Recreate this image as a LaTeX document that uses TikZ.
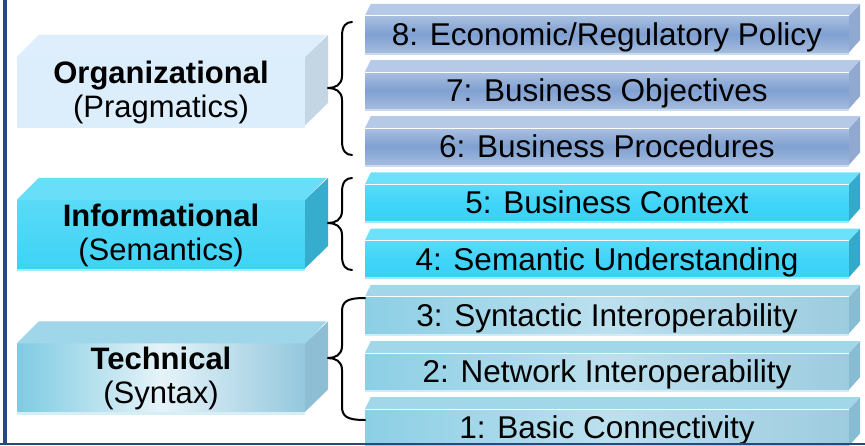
\documentclass[tikz,border=0pt]{standalone}
\usepackage{fontspec}
\setmainfont{Liberation Sans}
\usetikzlibrary{calc}

% palette
\definecolor{framecol}{HTML}{27497F}
% organizational tier (layers 6-8)
\definecolor{bizTop}{HTML}{A9BFE0}
\definecolor{bizMid}{HTML}{7FA0D1}
\definecolor{bizBot}{HTML}{A3BBDE}
\definecolor{bizLid}{HTML}{B6C9E6}
\definecolor{bizSide}{HTML}{8FA9D0}
\definecolor{bizStrip}{HTML}{CBDAEF}
% informational tier (layers 4-5)
\definecolor{semTop}{HTML}{5ADBF9}
\definecolor{semMid}{HTML}{40D4F8}
\definecolor{semBot}{HTML}{3AD2F7}
\definecolor{semLid}{HTML}{6DE0FA}
\definecolor{semSide}{HTML}{34AACB}
\definecolor{semStrip}{HTML}{A3E8FA}
% technical tier (layers 1-3)
\definecolor{synLeft}{HTML}{8CCFE5}
\definecolor{synMid}{HTML}{BCE0EE}
\definecolor{synRight}{HTML}{9DCCDF}
\definecolor{synLid}{HTML}{A2D6E9}
\definecolor{synSide}{HTML}{88BCD2}
\definecolor{synStrip}{HTML}{D2EBF5}
% left-hand tier blocks
\definecolor{orgFace}{HTML}{DCEDFB}
\definecolor{orgLid}{HTML}{DFEEFC}
\definecolor{orgSide}{HTML}{C4D5E3}
\definecolor{infTop}{HTML}{5ADAF7}
\definecolor{infBot}{HTML}{3ED3F6}
\definecolor{infLid}{HTML}{69DEF8}
\definecolor{infSide}{HTML}{37ADCE}
\definecolor{infStrip}{HTML}{A6E9F9}
\definecolor{tecLeft}{HTML}{7FCBE2}
\definecolor{tecMid}{HTML}{E6F3F9}
\definecolor{tecRight}{HTML}{94C8DD}
\definecolor{tecLid}{HTML}{9FD6E9}
\definecolor{tecSide}{HTML}{8DBED3}
\definecolor{tecStrip}{HTML}{D6EEF6}

\tikzset{
  layer/.style={minimum width=484pt, minimum height=36pt, inner sep=0pt,
    text height=22.6pt, text depth=0pt, font=\fontsize{31.5}{36}\selectfont},
  tier/.style={minimum width=288pt, minimum height=68pt, inner sep=0pt},
  tiertitle/.style={anchor=base, inner sep=0pt, font=\fontsize{31}{36}\selectfont\bfseries},
  tiersub/.style={anchor=base, inner sep=0pt, font=\fontsize{31}{36}\selectfont},
  % layer families: front face, lid (top face), side, light strip below
  bizfront/.style={top color=bizTop, bottom color=bizBot, middle color=bizMid},
  bizlid/.style={fill=bizLid}, bizside/.style={fill=bizSide}, bizstrip/.style={fill=bizStrip},
  semfront/.style={top color=semTop, bottom color=semBot, middle color=semMid},
  semlid/.style={fill=semLid}, semside/.style={fill=semSide}, semstrip/.style={fill=semStrip},
  synfront/.style={left color=synLeft, right color=synRight, middle color=synMid},
  synlid/.style={fill=synLid}, synside/.style={fill=synSide}, synstrip/.style={fill=synStrip},
  % tier families
  orgfront/.style={fill=orgFace}, orglid/.style={fill=orgLid}, orgside/.style={fill=orgSide}, orgstrip/.style={fill=orgFace},
  inffront/.style={top color=infTop, bottom color=infBot},
  inflid/.style={fill=infLid}, infside/.style={fill=infSide}, infstrip/.style={fill=infStrip},
  tecfront/.style={left color=tecLeft, right color=tecRight, middle color=tecMid},
  teclid/.style={fill=tecLid}, tecside/.style={fill=tecSide}, tecstrip/.style={fill=tecStrip},
  bracestroke/.style={draw=black, line width=2pt, line cap=round, line join=round},
  framestroke/.style={draw=framecol},
}

% one numbered layer slab: name, top y of its lid, family, text
\newcommand\layerslab[4]{%
  \fill[#3strip] (365,#2+48) rectangle ++(484,2.5);
  \node[layer, #3front] (#1) at (607,#2+30) {#4};
  \fill[#3lid] (#1.north west) -- ++(6,-12) -- ++(489,0) -- (#1.north east) -- cycle;
  \fill[#3side] (#1.north east) -- ++(11,-12) -- ++(0,36) -- (#1.south east) -- cycle;
  \draw[white, line width=0.8pt] (#1.north west) -- (#1.north east);
}

% one tier block: name, centre y of its front, family, title, subtitle
\newcommand\tierblock[5]{%
  \fill[#3strip] (17,#2+34) rectangle ++(288,3);
  \node[tier, #3front] (#1) at (161,#2) {};
  \fill[#3lid] (#1.north west) -- ++(22,-22) -- ++(288,0) -- (#1.north east) -- cycle;
  \fill[#3side] (#1.north east) -- ++(23,-22) -- ++(0,68) -- (#1.south east) -- cycle;
  \node[tiertitle] (#1-title) at (161,#2-8) {#4};
  \node[tiersub] (#1-sub) at (161,#2+26) {#5};
}

% curly brace: top y, tip y, bottom y, x of the hook ends
\newcommand\groupbrace[4]{%
  \draw[bracestroke] (#4,#1) .. controls (346,#1) and (342,#1+4) .. (342,#1+14)
    -- (342,#2-12) .. controls (342,#2-3) and (335,#2) .. (328,#2)
    .. controls (335,#2) and (342,#2+3) .. (342,#2+12)
    -- (342,#3-14) .. controls (342,#3-4) and (346,#3) .. (#4,#3);
}

\begin{document}
\begin{tikzpicture}[x=1pt, y=-1pt]
  \useasboundingbox (0,0) rectangle (865,445);
  \fill[white] (0,0) rectangle (865,445);

  % numbered layers, top to bottom
  \layerslab{l8}{4}{biz}{8: Economic/Regulatory Policy}
  \layerslab{l7}{60.2}{biz}{7: Business Objectives}
  \layerslab{l6}{116.4}{biz}{6: Business Procedures}
  \layerslab{l5}{172.6}{sem}{5: Business Context}
  \layerslab{l4}{228.8}{sem}{4: Semantic Understanding}
  \layerslab{l3}{285}{syn}{3: Syntactic Interoperability}
  \layerslab{l2}{341.2}{syn}{2: Network Interoperability}
  \layerslab{l1}{397.4}{syn}{1: Basic Connectivity}

  % tier blocks
  \tierblock{org}{91}{org}{Organizational}{(Pragmatics)}
  \tierblock{inf}{234}{inf}{Informational}{(Semantics)}
  \tierblock{tec}{377.5}{tec}{Technical}{(Syntax)}

  % braces grouping the layers into tiers
  \groupbrace{22}{88}{155}{352}
  \groupbrace{178}{223}{270}{352}
  \groupbrace{298}{358}{420}{365}

  % frame edges
  \draw[framestroke, line width=4pt] (4.5,0) -- (4.5,445);
  \draw[framestroke, line width=2pt] (0,444) -- (865,444);
\end{tikzpicture}
\end{document}
